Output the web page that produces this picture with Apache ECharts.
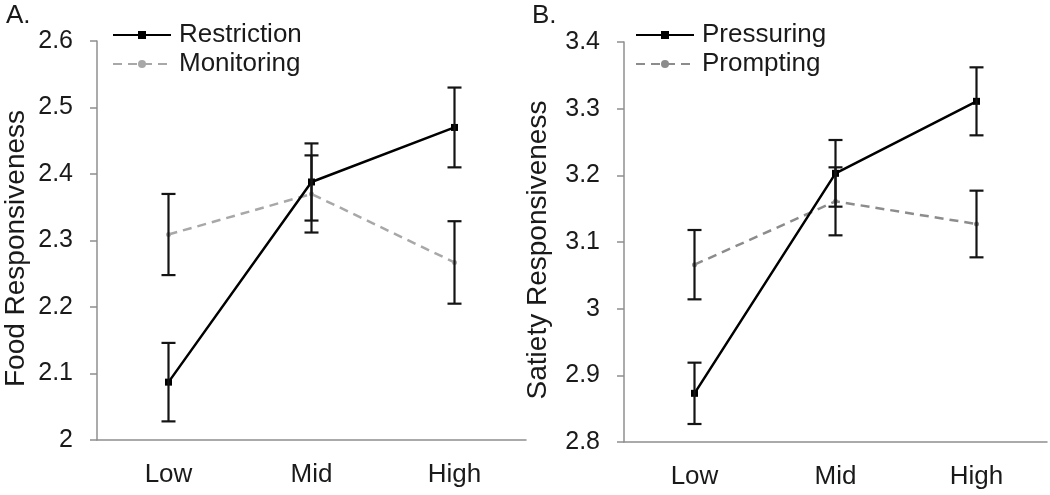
<!DOCTYPE html>
<html>
<head>
<meta charset="utf-8">
<script src="https://cdn.jsdelivr.net/npm/echarts@6/dist/echarts.min.js"></script>
<style>
html,body{margin:0;padding:0;background:#fff;}
#chart{width:1050px;height:495px;}
</style>
</head>
<body>
<div id="chart"></div>
<script>
const categories = ['Low', 'Mid', 'High'];

const restrictionMean = [2.087, 2.388, 2.470];
const restrictionErr  = [0.059, 0.058, 0.060];
const monitoringMean  = [2.309, 2.370, 2.267];
const monitoringErr   = [0.061, 0.058, 0.062];

const pressuringMean  = [2.873, 3.203, 3.311];
const pressuringErr   = [0.046, 0.050, 0.051];
const promptingMean   = [3.066, 3.161, 3.127];
const promptingErr    = [0.052, 0.051, 0.050];

const yTicksA = [2, 2.1, 2.2, 2.3, 2.4, 2.5, 2.6];
const yTicksB = [2.8, 2.9, 3, 3.1, 3.2, 3.3, 3.4];

const FONT = "'Liberation Sans', Arial, Helvetica, sans-serif";
const AXIS_COLOR = '#8f8f8f';

function errData(mean, err) {
  return mean.map((m, i) => [i, m - err[i], m + err[i]]);
}

function errSeries(name, mean, err, idx) {
  return {
    type: 'custom',
    name: name + ' SE',
    xAxisIndex: idx, yAxisIndex: idx,
    data: errData(mean, err),
    encode: { x: 0, y: [1, 2] },
    z: 5,
    silent: true,
    renderItem: function (params, api) {
      const lo = api.coord([api.value(0), api.value(1)]);
      const hi = api.coord([api.value(0), api.value(2)]);
      const cap = 7;
      const st = { stroke: '#141414', lineWidth: 2.2 };
      return {
        type: 'group',
        children: [
          { type: 'line', shape: { x1: lo[0], y1: lo[1], x2: hi[0], y2: hi[1] }, style: st },
          { type: 'line', shape: { x1: lo[0] - cap, y1: lo[1], x2: lo[0] + cap, y2: lo[1] }, style: st },
          { type: 'line', shape: { x1: hi[0] - cap, y1: hi[1], x2: hi[0] + cap, y2: hi[1] }, style: st }
        ]
      };
    }
  };
}

function xAxisCfg(idx) {
  return {
    type: 'category', gridIndex: idx, data: categories,
    axisLine: { lineStyle: { color: AXIS_COLOR, width: 1.5 } },
    axisTick: { length: 7, lineStyle: { color: AXIS_COLOR, width: 1.5 } },
    axisLabel: { color: '#1a1a1a', fontSize: 26, fontFamily: FONT, margin: 22 },
    splitLine: { show: false }
  };
}

function yAxisCfg(idx, ticks, name, gap) {
  return {
    type: 'value', gridIndex: idx,
    min: ticks[0], max: ticks[ticks.length - 1], interval: 0.1,
    name: name, nameLocation: 'middle', nameGap: gap,
    nameTextStyle: { color: '#1a1a1a', fontSize: 28, fontFamily: FONT, padding: [0, 16, 0, 0] },
    axisLine: { show: true, lineStyle: { color: AXIS_COLOR, width: 1.5 } },
    axisTick: { show: true, length: 7, lineStyle: { color: AXIS_COLOR, width: 1.5 } },
    axisLabel: { color: '#1a1a1a', fontSize: 25, fontFamily: FONT, margin: 24,
      formatter: function (v) { return String(Math.round(v * 10) / 10); } },
    splitLine: { show: false }
  };
}

const chart = echarts.init(document.getElementById('chart'), null, { renderer: 'canvas' });

const option = {
  animation: false,
  backgroundColor: '#fff',
  textStyle: { fontFamily: FONT },
  graphic: [
    { type: 'text', left: 6, top: 3, style: { text: 'A.', fontSize: 26, fontFamily: FONT, fill: '#1a1a1a' } },
    { type: 'text', left: 532, top: 3, style: { text: 'B.', fontSize: 26, fontFamily: FONT, fill: '#1a1a1a' } }
  ],
  grid: [
    { left: 97, top: 41, width: 429, height: 399 },
    { left: 624, top: 42, width: 423, height: 400 }
  ],
  legend: [
    {
      data: ['Restriction', 'Monitoring'], orient: 'vertical', left: 107, top: 16,
      itemWidth: 58, itemHeight: 10, itemGap: 1,
      textStyle: { fontSize: 26, fontFamily: FONT, color: '#1a1a1a', lineHeight: 28, padding: [0, 0, 0, 3] }
    },
    {
      data: ['Pressuring', 'Prompting'], orient: 'vertical', left: 630, top: 16,
      itemWidth: 58, itemHeight: 10, itemGap: 1,
      textStyle: { fontSize: 26, fontFamily: FONT, color: '#1a1a1a', lineHeight: 28, padding: [0, 0, 0, 3] }
    }
  ],
  xAxis: [xAxisCfg(0), xAxisCfg(1)],
  yAxis: [
    yAxisCfg(0, yTicksA, 'Food Responsiveness', 67),
    yAxisCfg(1, yTicksB, 'Satiety Responsiveness', 72)
  ],
  series: [
    {
      type: 'line', name: 'Monitoring', xAxisIndex: 0, yAxisIndex: 0, data: monitoringMean,
      symbol: 'circle', symbolSize: 5, z: 3,
      itemStyle: { color: '#a8a8a8' },
      lineStyle: { color: '#a8a8a8', width: 2.5, type: [9, 6] }
    },
    {
      type: 'line', name: 'Restriction', xAxisIndex: 0, yAxisIndex: 0, data: restrictionMean,
      symbol: 'rect', symbolSize: 7, z: 4,
      itemStyle: { color: '#000' },
      lineStyle: { color: '#000', width: 2.5 }
    },
    errSeries('Restriction', restrictionMean, restrictionErr, 0),
    errSeries('Monitoring', monitoringMean, monitoringErr, 0),
    {
      type: 'line', name: 'Prompting', xAxisIndex: 1, yAxisIndex: 1, data: promptingMean,
      symbol: 'circle', symbolSize: 5, z: 3,
      itemStyle: { color: '#8c8c8c' },
      lineStyle: { color: '#8c8c8c', width: 2.5, type: [9, 6] }
    },
    {
      type: 'line', name: 'Pressuring', xAxisIndex: 1, yAxisIndex: 1, data: pressuringMean,
      symbol: 'rect', symbolSize: 7, z: 4,
      itemStyle: { color: '#000' },
      lineStyle: { color: '#000', width: 2.5 }
    },
    errSeries('Pressuring', pressuringMean, pressuringErr, 1),
    errSeries('Prompting', promptingMean, promptingErr, 1)
  ]
};

chart.setOption(option);
</script>
</body>
</html>
